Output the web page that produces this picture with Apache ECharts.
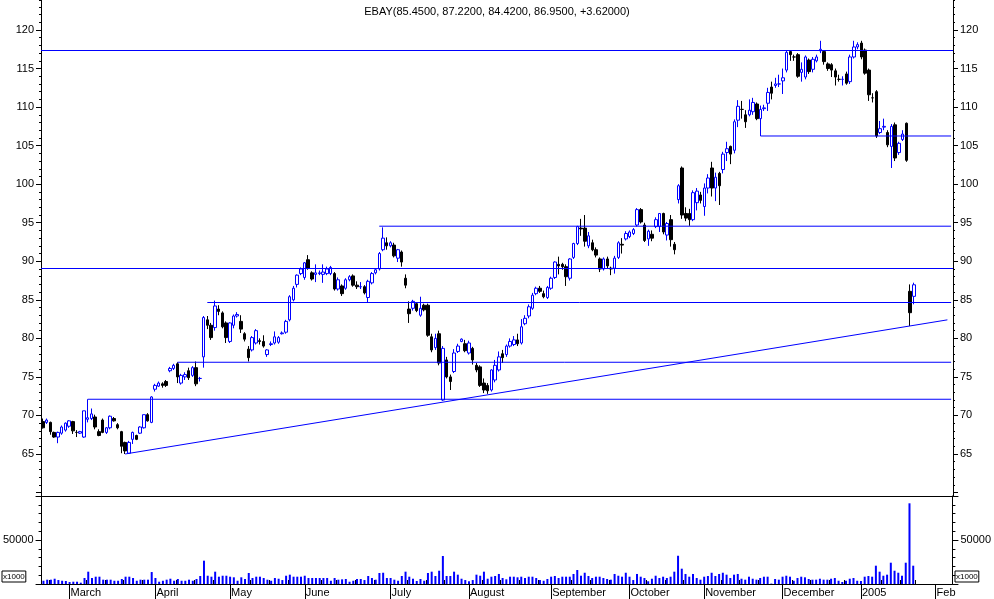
<!DOCTYPE html>
<html><head><meta charset="utf-8">
<script src="https://cdn.jsdelivr.net/npm/echarts@6/dist/echarts.min.js"></script>
<style>html,body{margin:0;padding:0;background:#fff}#c{width:994px;height:599px}</style>
</head><body><div id="c"></div>
<script>
// ---------------- data ----------------
const titleText = 'EBAY(85.4500, 87.2200, 84.4200, 86.9500, +3.62000)';
const firstDay = '2004-02-19';
const holidays = ['2004-04-09','2004-05-31','2004-06-11','2004-07-05','2004-09-06','2004-11-25','2004-12-24','2005-01-17'];
const slotCount = 244;
const monthLabels = ['March','April','May','June','July','August','September','October','November','December','2005','Feb'];
const monthTickSlots = [7,30,50,70,93,114,136,157,177,198,219,239];

const open = [
69.2,69.1,69.1,67.8,67.2,67.7,68.1,68.6,69.2,67.8,
67.7,67.2,69.5,69.6,69.8,67.9,69.4,67.8,68.4,69.6,
68.8,67.9,66.5,65.1,66.9,67.4,67.7,68.4,70.1,69.1,
73.4,73.8,74.1,74.4,75.8,76.1,76.7,74.2,75.0,75.8,
75.2,76.2,74.8,77.6,82.4,81.7,81.4,83.8,83.3,82.0,
79.6,81.7,82.9,82.2,80.6,78.6,78.5,79.4,79.7,79.6,
77.9,79.2,79.4,79.5,80.6,80.8,82.4,85.0,87.0,88.4,
87.9,90.2,88.5,88.3,88.4,88.3,88.4,88.4,88.4,86.4,
86.8,86.5,87.6,88.1,86.9,86.7,86.7,85.3,87.2,88.5,
89.0,91.5,92.4,92.0,92.1,90.4,91.2,87.8,83.8,83.9,
84.5,83.0,84.3,84.3,80.2,78.8,80.6,72.0,77.2,75.0,
75.7,78.3,79.6,79.3,78.1,78.7,76.5,76.3,74.2,73.9,
73.3,74.6,75.9,78.0,77.9,79.0,79.2,79.8,79.4,81.9,
82.9,83.9,85.8,86.5,85.8,85.3,86.5,87.9,89.6,89.6,
89.3,87.8,90.5,92.3,94.3,94.3,92.0,92.4,91.5,90.3,
89.0,90.3,89.1,89.1,90.5,92.2,92.9,93.2,93.6,94.7,
96.7,94.7,92.9,93.5,94.5,94.5,96.2,93.4,95.4,92.2,
98.0,102.1,96.2,96.2,95.4,97.6,98.6,97.1,99.5,102.1,
99.5,101.4,101.9,104.1,104.9,104.4,108.3,109.7,109.0,109.0,
109.4,110.4,108.5,109.8,110.5,112.6,112.8,113.0,113.4,114.8,
117.2,116.5,116.8,114.5,113.9,116.1,114.9,116.0,117.3,117.2,
115.6,115.5,114.7,113.6,113.6,114.3,113.3,116.5,117.8,118.3,
117.4,114.8,111.2,112.0,106.7,107.4,106.7,104.9,107.7,104.1,
105.8,107.9,86.1,85.45];
const high = [
69.6,69.6,69.2,67.9,67.9,68.7,69.1,69.4,69.3,68.1,
68.0,70.6,72.1,70.9,70.1,68.2,69.6,68.5,70.0,69.8,
69.0,68.0,66.6,66.7,67.9,67.5,68.6,70.1,70.3,72.5,
74.1,74.4,74.3,74.6,76.3,76.7,76.9,75.4,75.6,76.2,
76.4,77.0,75.0,82.9,82.9,82.0,84.9,84.3,83.5,82.2,
82.1,83.1,83.4,83.0,80.8,79.0,80.3,81.2,80.0,80.4,
78.6,79.6,80.9,80.3,80.9,82.4,85.6,86.8,88.3,89.2,
89.9,90.8,88.7,89.6,88.8,89.6,89.3,89.4,88.6,87.9,
87.0,87.8,88.2,88.3,87.4,87.3,86.9,87.6,88.6,89.0,
91.2,94.4,93.1,92.6,92.4,91.6,91.4,88.3,84.8,85.0,
84.7,85.4,84.5,84.5,80.6,80.6,81.0,79.0,77.6,75.3,
78.6,79.3,80.0,79.8,79.7,78.9,76.8,76.5,74.8,74.2,
76.0,77.2,78.3,78.5,79.2,80.0,80.3,80.6,82.5,83.0,
84.4,85.9,86.7,86.8,86.2,86.8,88.0,90.0,90.6,89.8,
89.6,90.4,92.4,94.6,95.5,96.0,93.8,92.8,91.8,90.5,
90.5,90.6,89.3,90.7,92.6,93.0,93.9,94.0,94.3,96.9,
96.9,95.0,94.1,94.0,95.7,96.2,96.3,95.1,96.0,92.5,
100.0,102.3,97.0,96.8,99.2,99.5,99.0,100.1,101.3,102.9,
101.5,101.6,104.2,105.5,105.0,108.4,110.9,110.8,109.6,111.0,
111.2,110.6,110.2,110.3,112.5,113.3,113.8,114.2,115.0,117.4,
117.4,116.8,117.0,115.8,116.7,116.3,116.5,116.8,118.6,117.4,
115.8,115.7,115.0,114.2,114.0,114.6,116.8,118.6,118.4,118.6,
117.6,115.0,111.8,112.2,108.2,108.5,107.0,107.8,108.0,105.5,
107.0,108.0,87.0,87.22];
const low = [
68.3,68.9,67.5,67.1,66.4,67.5,67.9,68.4,67.6,67.2,
67.6,67.1,69.1,69.4,68.2,67.3,67.7,67.6,68.2,69.2,
68.2,65.1,65.0,65.0,66.3,66.8,67.6,68.3,69.2,69.0,
73.1,73.7,73.6,73.7,75.6,75.9,74.2,74.0,74.6,74.6,
75.0,73.8,74.4,76.2,81.2,79.8,81.0,83.0,81.3,79.4,
79.4,81.3,82.7,80.7,79.6,77.0,78.3,79.2,79.2,78.8,
77.6,79.0,79.2,79.3,80.5,80.6,82.2,84.8,86.6,88.2,
87.6,88.9,87.5,87.3,88.2,87.2,88.2,88.2,86.2,86.2,
85.5,86.3,87.4,86.7,86.4,86.4,85.7,84.6,87.0,88.3,
88.8,91.3,91.5,91.8,90.5,89.9,89.3,86.5,82.0,83.6,
83.4,82.8,83.5,80.2,78.2,78.5,76.5,71.9,74.8,73.3,
75.5,78.1,79.5,78.2,77.9,76.6,75.6,73.7,72.9,72.8,
73.1,74.3,75.7,76.8,77.6,78.8,79.0,79.0,79.2,81.7,
82.6,83.7,85.6,85.9,85.2,85.1,86.3,87.7,88.3,88.9,
86.8,87.5,90.3,92.1,93.3,91.9,91.7,91.3,90.5,88.6,
88.8,89.0,88.2,88.4,90.3,91.0,92.7,93.0,93.4,94.5,
94.9,92.5,92.0,92.6,94.3,93.8,93.5,92.7,91.9,90.9,
97.5,95.5,95.2,94.6,95.2,96.6,97.5,95.9,98.8,98.4,
97.8,97.3,101.4,103.0,102.6,104.0,107.4,108.5,107.3,108.8,
109.0,108.3,106.25,109.5,109.5,111.0,112.5,112.6,111.7,114.5,
116.0,116.0,113.8,113.3,113.6,114.3,114.5,115.8,117.0,115.5,
114.7,113.9,112.8,113.3,112.8,112.9,113.0,116.3,117.5,116.2,
114.2,110.8,110.6,106.0,106.5,107.0,104.8,102.1,103.0,103.8,
105.6,102.9,81.6,84.42];
const close = [
68.4,69.4,67.9,67.2,67.8,68.5,69.0,69.3,68.0,67.8,
67.9,70.6,69.7,70.2,68.5,67.4,67.8,68.4,69.9,69.3,
68.4,66.0,65.4,66.5,67.8,66.9,68.5,70.1,69.3,72.4,
73.9,74.2,73.9,73.9,76.1,76.5,75.0,75.2,75.3,74.9,
76.2,74.1,74.8,82.7,81.7,80.1,84.2,83.5,81.5,80.1,
82.0,82.9,83.1,81.2,79.9,77.5,80.1,81.0,79.6,79.0,
78.5,79.3,80.2,80.1,80.7,82.2,85.4,86.5,88.2,89.0,
89.8,89.1,87.7,88.5,88.5,88.6,89.0,89.2,86.4,87.6,
85.8,87.6,88.0,86.9,86.7,86.7,85.9,87.4,88.4,88.9,
91.0,93.0,92.0,92.4,90.7,91.5,89.9,86.9,83.2,84.8,
83.6,83.9,83.7,80.4,78.5,80.0,76.8,78.7,75.0,74.4,
78.1,79.0,79.9,78.4,79.4,77.2,75.9,73.9,73.3,73.2,
75.9,76.5,77.6,77.5,79.0,79.6,79.8,79.3,81.5,82.6,
84.1,85.6,86.5,86.1,85.4,86.6,87.8,89.9,89.4,89.3,
88.0,90.3,92.3,94.5,94.2,92.6,93.3,91.5,90.8,89.0,
90.3,89.4,89.0,90.4,92.4,92.1,93.6,93.8,94.1,96.7,
95.1,92.7,93.9,93.0,95.4,96.2,93.8,94.9,92.8,91.5,
99.8,96.0,95.6,95.4,98.9,99.1,97.9,99.5,100.8,99.5,
100.9,99.8,103.9,104.6,103.9,108.1,110.1,109.7,108.1,109.6,
110.6,108.5,109.7,109.9,111.9,111.8,113.0,113.0,113.8,117.1,
116.8,116.5,114.0,114.9,116.5,114.6,116.2,116.5,117.5,115.9,
115.0,114.8,113.9,113.6,113.6,113.1,116.5,117.8,118.1,116.5,
114.4,111.6,111.2,106.25,107.2,107.5,105.1,107.5,103.4,105.3,
106.5,103.1,83.33,86.95];
// volume in thousands of shares
const volume = [
3700,4900,4900,6000,4500,3700,3400,2300,2600,2600,
1500,6800,14000,6800,8300,8300,4900,4900,4900,3700,
3700,5700,8300,8300,6800,3700,4900,4900,4900,13600,
6800,2600,3700,4900,6000,3700,5700,3700,3700,4900,
3700,5700,9100,26500,9400,8300,14000,8300,9400,9400,
8300,7600,3700,7600,5700,12500,6800,8300,8300,6800,
4900,3700,6800,6000,4500,9400,10600,8300,8300,8300,
9400,6800,6800,6800,6800,6800,6800,3700,6800,4900,
5300,5700,2600,3700,5700,5700,4500,9100,6800,4900,
12500,12800,6800,6800,4900,3700,9100,14000,8300,6000,
3400,5700,3700,12500,14000,9100,15100,31800,9100,9100,
14000,10600,6000,4500,3100,4500,10600,9400,14000,6000,
8300,9100,11400,6800,5300,8300,8300,7600,8300,6800,
8300,8300,6800,4500,3700,5700,8300,9100,6800,8300,
8300,8300,11400,15900,9400,12800,9100,6800,8300,8300,
6800,5700,4900,11400,9400,8300,12800,8300,4500,11400,
8300,6800,3100,6000,9400,6800,8300,6800,8300,14000,
32100,17400,11400,8300,11400,6800,4900,8300,9100,12800,
9100,11400,12800,10600,6800,10600,11400,6000,4900,8300,
6000,4900,6800,8300,8300,500,5700,4900,8300,9400,
8300,3700,6800,8300,7600,5700,4900,4900,6000,4900,
4900,6000,6800,3700,2300,3700,6000,6800,3700,3400,
8300,9100,8300,20800,14000,9400,10600,24200,15100,12800,
9400,24200,91700,20800];

// support / resistance levels: price and first trading-day slot
const levelPrices = [117.35, 89.1, 94.55, 84.65, 76.9, 72.1, 106.25];
const levelStart  = [0, 0, 90, 44, 36, 12, 192];
// rising trend line: [slot, price] endpoints
const trendStart = [22, 65.0];
const trendEnd = [242, 82.4];

// ---------------- build ----------------
function tradingDays(n) {
  const out = [];
  const d = new Date(firstDay + 'T00:00:00Z');
  while (out.length < n) {
    const iso = d.toISOString().slice(0, 10);
    const dow = d.getUTCDay();
    if (dow !== 0 && dow !== 6 && holidays.indexOf(iso) < 0) out.push(iso);
    d.setUTCDate(d.getUTCDate() + 1);
  }
  return out;
}
const cats = tradingDays(slotCount);
const monthMap = {};
monthTickSlots.forEach((s, i) => monthMap[s] = monthLabels[i]);
const weekSet = new Set();
for (let i = 1; i < cats.length; i++) {
  const a = new Date(cats[i - 1] + 'T00:00:00Z').getUTCDay();
  const b = new Date(cats[i] + 'T00:00:00Z').getUTCDay();
  if (b < a) {
    let near = monthTickSlots.some(s => Math.abs(s - i) <= 2);
    if (!near) weekSet.add(i);
  }
}
const candles = open.map((o, i) => [o, close[i], low[i], high[i]]);

const PX_PER_UNIT = 7.709, Y_AT_120 = 30, MAIN_H = 496;
const PMAX = 120 + Y_AT_120 / PX_PER_UNIT;
const PMIN = PMAX - MAIN_H / PX_PER_UNIT;
const TICK_H = Y_AT_120 + 60 * PX_PER_UNIT; // grid whose bottom sits at price 60
const font = '"Liberation Sans", Arial, sans-serif';
const blue = '#0000ff';

const series = [{
  type: 'candlestick', xAxisIndex: 0, yAxisIndex: 0, data: candles, barWidth: 3,
  itemStyle: { color: '#ffffff', color0: '#000000', borderColor: blue, borderColor0: '#000000', borderWidth: 1 },
  markLine: {
    silent: true, symbol: ['none', 'none'], label: { show: false },
    lineStyle: { color: blue, width: 1, type: 'solid' },
    data: levelPrices.filter((p, i) => levelStart[i] === 0).map(p => ({ yAxis: p }))
  }
}];
levelPrices.forEach((p, i) => {
  if (levelStart[i] === 0) return;
  series.push({
    type: 'line', xAxisIndex: 0, yAxisIndex: 0, symbol: 'none', silent: true,
    lineStyle: { color: blue, width: 1 },
    data: [[cats[levelStart[i]], p], [cats[slotCount - 1], p]]
  });
});
series.push({
  type: 'line', xAxisIndex: 0, yAxisIndex: 0, symbol: 'none', silent: true,
  lineStyle: { color: blue, width: 1 },
  data: [[cats[trendStart[0]], trendStart[1]], [cats[trendEnd[0]], trendEnd[1]]]
});
series.push({
  type: 'bar', xAxisIndex: 1, yAxisIndex: 6, data: volume, barWidth: 2,
  itemStyle: { color: blue }, silent: true
});

const black = { color: '#000' };
const priceMajor = (pos) => ({
  type: 'value', gridIndex: 2, position: pos, min: 60, max: PMAX, interval: 5,
  axisLine: { show: false },
  axisTick: { show: true, length: 5, lineStyle: black },
  splitLine: { show: false },
  axisLabel: { color: '#000', fontFamily: font, fontSize: 11, margin: 7, showMaxLabel: false,
    formatter: v => (v >= 65 && v <= 120 && v % 5 === 0) ? String(v) : '' }
});
const priceMinor = (pos) => ({
  type: 'value', gridIndex: 2, position: pos, min: 60, max: PMAX, interval: 1,
  axisLine: { show: false },
  axisTick: { show: true, length: 2, lineStyle: black },
  splitLine: { show: false }, axisLabel: { show: false }
});
const volAxis = (pos) => ({
  type: 'value', gridIndex: 1, position: pos, min: 0, max: 100000, interval: 50000,
  axisLine: { show: true, lineStyle: black },
  axisTick: { show: true, length: 6, lineStyle: black },
  minorTick: { show: true, splitNumber: 5, length: 3, lineStyle: black },
  splitLine: { show: false },
  axisLabel: { color: '#000', fontFamily: font, fontSize: 11, margin: 8,
    formatter: v => v === 50000 ? '50000' : '' }
});
const mainLineAxis = (pos) => ({
  type: 'value', gridIndex: 0, position: pos, min: PMIN, max: PMAX,
  axisLine: { show: true, lineStyle: black }, axisTick: { show: false },
  axisLabel: { show: false }, splitLine: { show: false }
});

const boxStyle = { text: 'x1000', fontSize: 8, fontFamily: font, fill: '#000',
  borderColor: '#000', borderWidth: 1, padding: [2, 1, 1, 1] };
const option = {
  animation: false,
  backgroundColor: '#ffffff',
  title: { text: titleText, left: 'center', top: 1,
    textStyle: { fontSize: 11, fontWeight: 'normal', color: '#000', fontFamily: font } },
  grid: [
    { left: 41, right: 41, top: 0, height: MAIN_H },
    { left: 41, right: 41, top: 496, height: 88 },
    { left: 41, right: 41, top: 0, height: TICK_H }
  ],
  xAxis: [
    { type: 'category', gridIndex: 0, data: cats, axisLine: { show: true, lineStyle: black },
      axisTick: { show: false }, axisLabel: { show: false }, splitLine: { show: false } },
    { type: 'category', gridIndex: 1, data: cats, axisLine: { show: true, lineStyle: black },
      axisTick: { show: true, alignWithLabel: true, length: 15, lineStyle: black,
        interval: (i) => monthMap[i] !== undefined },
      axisLabel: { show: true, color: '#000', fontFamily: font, fontSize: 11, margin: 3, align: 'left',
        padding: [0, 0, 0, 1],
        interval: (i) => monthMap[i] !== undefined,
        formatter: (v, i) => monthMap[i] || '' } },
    { type: 'category', gridIndex: 1, data: cats, axisLine: { show: false },
      axisTick: { show: true, length: 4, lineStyle: black, interval: (i) => weekSet.has(i) },
      axisLabel: { show: false } },
    { type: 'value', gridIndex: 2, show: false, min: 0, max: 1 }
  ],
  yAxis: [
    mainLineAxis('left'), mainLineAxis('right'),
    priceMajor('left'), priceMinor('left'),
    priceMajor('right'), priceMinor('right'),
    volAxis('left'), volAxis('right')
  ],
  graphic: [
    { type: 'text', x: 2, y: 571, style: Object.assign({}, boxStyle) },
    { type: 'text', x: 955, y: 571, style: Object.assign({}, boxStyle) }
  ],
  series: series
};
const chart = echarts.init(document.getElementById('c'), null, { renderer: 'canvas' });
chart.setOption(option);
</script>
</body></html>
